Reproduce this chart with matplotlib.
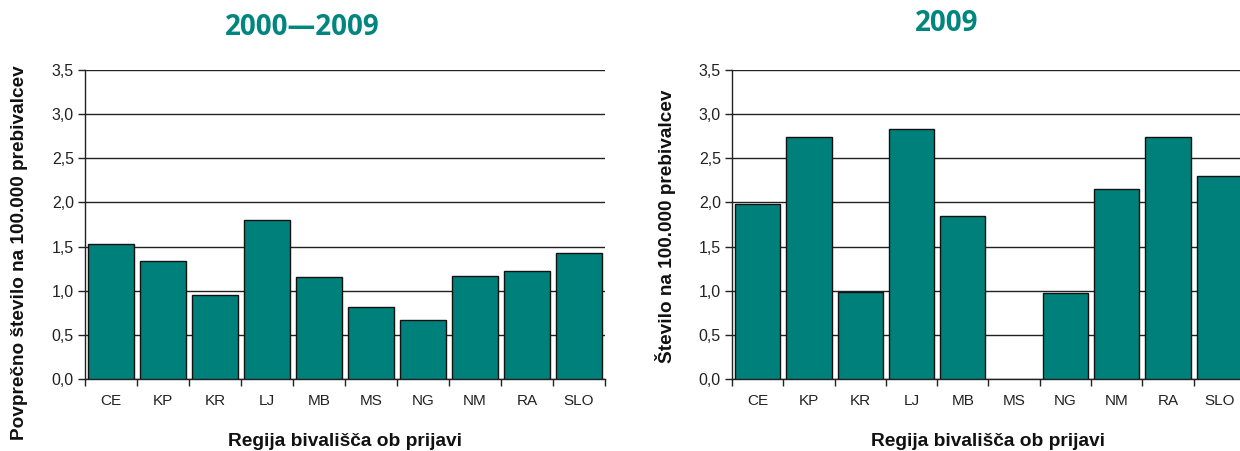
import matplotlib
matplotlib.use("Agg")
import matplotlib.pyplot as plt
import numpy as np

regions = ["CE", "KP", "KR", "LJ", "MB", "MS", "NG", "NM", "RA", "SLO"]
avg_2000_2009 = [1.53, 1.34, 0.95, 1.80, 1.16, 0.81, 0.67, 1.17, 1.22, 1.43]
rate_2009 = [1.98, 2.74, 0.99, 2.83, 1.85, 0.0, 0.975, 2.15, 2.74, 2.30]
y_ticks = [0.0, 0.5, 1.0, 1.5, 2.0, 2.5, 3.0, 3.5]
y_tick_labels = ["0,0", "0,5", "1,0", "1,5", "2,0", "2,5", "3,0", "3,5"]

BAR = "#00807B"
TITLE = "#00857F"

plt.rcParams["font.family"] = ["Liberation Sans", "DejaVu Sans"]

fig = plt.figure(figsize=(12.4, 4.51), dpi=100)

panels = [
    dict(pos=[85 / 1240, 1 - 379 / 451, 520 / 1240, 309 / 451],
         values=avg_2000_2009, title="2000\u20142009",
         title_xy=(302 / 1240, 1 - 35 / 451),
         ylabel="Povprečno število na 100.000 prebivalcev",
         ylabel_xy=(20 / 1240, 1 - 253 / 451)),
    dict(pos=[732 / 1240, 1 - 379 / 451, 513 / 1240, 309 / 451],
         values=rate_2009, title="2009",
         title_xy=(947 / 1240, 1 - 31 / 451),
         ylabel="Število na 100.000 prebivalcev",
         ylabel_xy=(665 / 1240, 1 - 226 / 451)),
]

for p in panels:
    ax = fig.add_axes(p["pos"])
    x = np.arange(len(regions))
    vals = p["values"]
    # zero-height bars get no outline
    edges = [1.0 if v > 0 else 0.0 for v in vals]
    ax.bar(x, vals, width=0.88, color=BAR, edgecolor="#111111",
           linewidth=edges, zorder=3)
    ax.set_xlim(-0.5, len(regions) - 0.5)
    ax.set_ylim(0, 3.5)
    ax.set_yticks(y_ticks)
    ax.set_yticklabels(y_tick_labels, fontsize=11.5, color="#222222")
    ax.yaxis.grid(True, color="#222222", linewidth=1.0, zorder=0)
    ax.set_axisbelow(True)
    ax.set_xticks(x)
    ax.set_xticklabels(regions, fontsize=11, color="#222222")
    ax.set_xticks(np.arange(len(regions) + 1) - 0.5, minor=True)
    ax.tick_params(axis="x", which="major", length=0, pad=11)
    ax.tick_params(axis="x", which="minor", length=5, width=1, color="#222222")
    ax.tick_params(axis="y", length=5, width=1, color="#222222", pad=3)
    for side in ("top", "right"):
        ax.spines[side].set_visible(False)
    for side in ("left", "bottom"):
        ax.spines[side].set_color("#222222")
        ax.spines[side].set_linewidth(1.0)
    ax.set_xlabel("Regija bivališča ob prijavi", fontsize=13.8, fontweight="bold",
                  labelpad=18, color="#111111")
    fig.text(*p["ylabel_xy"], p["ylabel"], rotation=90, ha="center", va="center",
             fontsize=13.7, fontweight="bold", color="#111111")
    fig.text(*p["title_xy"], p["title"], ha="center", va="baseline",
             fontsize=20, fontweight="bold", color=TITLE, family="Open Sans")

fig.savefig("out.png", dpi=100)
